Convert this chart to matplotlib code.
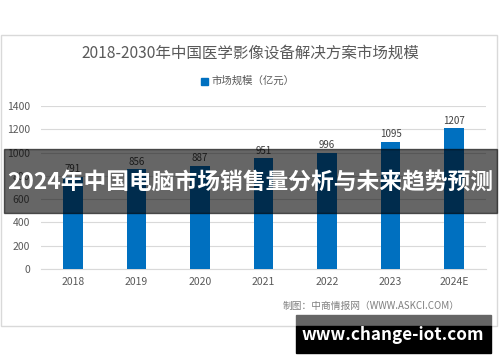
import matplotlib
matplotlib.use("Agg")
import matplotlib.pyplot as plt
from matplotlib.patches import Rectangle

plt.rcParams['font.family'] = ['Noto Sans CJK SC', 'DejaVu Sans']

categories = ["2018", "2019", "2020", "2021", "2022", "2023", "2024E"]
values = [791, 856, 887, 951, 996, 1095, 1207]
yticks = [0, 200, 400, 600, 800, 1000, 1200, 1400]
title = "2018-2030年中国医学影像设备解决方案市场规模"
legend_label = "市场规模（亿元）"
source = "制图：中商情报网（WWW.ASKCI.COM）"
banner = "2024年中国电脑市场销售量分析与未来趋势预测"
site = "www.change-iot.com"

W, H = 500, 362
fig = plt.figure(figsize=(W / 100, H / 100), dpi=100)
fig.patch.set_facecolor("white")

def fx(px):
    return px / W

def fy(py):
    return 1 - py / H

# chart frame
fig.patches.append(Rectangle((fx(1), fy(326)), fx(496), (326 - 35) / H,
                             transform=fig.transFigure, fill=False,
                             edgecolor="#d9d9d9", linewidth=1.0, zorder=0))

ax = fig.add_axes([fx(41), fy(269), fx(486) - fx(41), (269 - 106) / H])
x = list(range(len(categories)))
bars = ax.bar(x, values, width=0.31, color="#0070c0", zorder=3, label=legend_label)
for xi, v in zip(x, values):
    ax.text(xi, v + 22, str(v), ha="center", va="bottom", fontsize=7,
            color="#404040")
ax.set_xlim(-0.5, len(categories) - 0.5)
ax.set_ylim(0, 1400)
ax.set_yticks(yticks)
ax.set_yticklabels([str(t) for t in yticks], fontsize=7.5, color="#595959")
ax.set_xticks(x)
ax.set_xticklabels(categories, fontsize=7.5, color="#595959")
ax.tick_params(length=0, pad=6)
ax.tick_params(axis="y", pad=8)
ax.grid(axis="y", color="#d9d9d9", linewidth=0.8, zorder=0)
for s in ["top", "right", "left"]:
    ax.spines[s].set_visible(False)
ax.spines["bottom"].set_color("#d9d9d9")

fig.text(0.5, fy(53), title, ha="center", va="center", fontsize=11.2,
         color="#595959")
# legend
fig.patches.append(Rectangle((fx(201), fy(85)), fx(7), 7 / H,
                             transform=fig.transFigure, color="#0070c0"))
fig.text(fx(212), fy(81), legend_label, ha="left", va="center", fontsize=7.5,
         color="#595959")
fig.text(fx(460), fy(306), source, ha="right", va="center", fontsize=7,
         color="#7f7f7f")

# banner overlay
fig.patches.append(Rectangle((fx(4), fy(213)), fx(493), (213 - 149) / H,
                             transform=fig.transFigure, color="black",
                             alpha=0.6, zorder=10))
fig.text(fx(250), fy(182), banner, ha="center", va="center", fontsize=16.4,
         color="white", fontweight="bold", zorder=11)

# site box
fig.patches.append(Rectangle((fx(296), fy(326)), fx(195), (326 - 315) / H,
                             transform=fig.transFigure, color="#666666",
                             zorder=10))
fig.patches.append(Rectangle((fx(296), fy(353)), fx(195), (353 - 326) / H,
                             transform=fig.transFigure, color="black",
                             zorder=10))
fig.text(fx(393), fy(335), site, ha="center", va="center", fontsize=12.3,
         color="white", fontweight="bold", zorder=11)

fig.savefig("out.png", dpi=100)
